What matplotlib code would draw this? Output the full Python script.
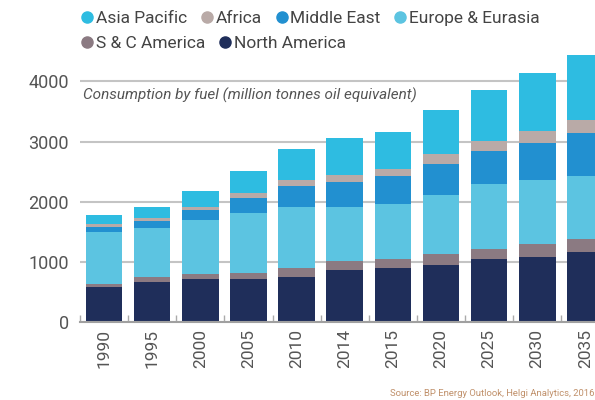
import numpy as np
import matplotlib.pyplot as plt
from matplotlib.lines import Line2D

plt.rcParams['font.family'] = ['Roboto', 'DejaVu Sans']

years = ["1990", "1995", "2000", "2005", "2010", "2014", "2015", "2020", "2025", "2030", "2035"]

# million tonnes oil equivalent, stacked bottom -> top
north_america = [580, 660, 710, 715, 755, 865, 890, 940, 1040, 1085, 1165]
sc_america = [50, 85, 95, 105, 150, 150, 160, 190, 180, 215, 210]
europe_eurasia = [875, 825, 885, 995, 1005, 905, 910, 975, 1070, 1055, 1055]
middle_east = [80, 110, 175, 250, 345, 415, 460, 525, 550, 615, 705]
africa = [50, 55, 50, 75, 110, 110, 125, 160, 165, 200, 220]
asia_pacific = [140, 185, 260, 365, 510, 615, 615, 735, 850, 975, 1080]

series = [
    ("North America", north_america, "#1F2E5A"),
    ("S & C America", sc_america, "#8B7A82"),
    ("Europe & Eurasia", europe_eurasia, "#5CC4E1"),
    ("Middle East", middle_east, "#2290D0"),
    ("Africa", africa, "#B9AAA7"),
    ("Asia Pacific", asia_pacific, "#2EBCE1"),
]
colors = {name: c for name, _, c in series}

fig = plt.figure(figsize=(5.95, 4), dpi=100)
ax = fig.add_axes([80 / 595, 78 / 400, 515 / 595, 0.699])

x = np.arange(len(years))
bottom = np.zeros(len(years))
for name, vals, col in series:
    ax.bar(x, vals, width=0.76, bottom=bottom, color=col, edgecolor="none", zorder=3)
    bottom += np.array(vals)

ax.set_xlim(-0.49, 10.2)
ax.set_ylim(0, 4650)
ax.set_yticks([0, 1000, 2000, 3000, 4000])
ax.yaxis.grid(True, color="#C4C4C4", linewidth=1.5, zorder=0)
ax.tick_params(axis="y", length=0, labelsize=13, labelcolor="#555555", pad=8)

ax.set_xticks(x)
ax.set_xticklabels(years, rotation=90)
ax.tick_params(axis="x", which="major", length=0, labelsize=12.5, labelcolor="#555555", pad=5)
ax.set_xticks(np.arange(-0.5, 10.5, 1), minor=True)
ax.tick_params(axis="x", which="minor", direction="in", length=5, color="#AAAAAA", width=1)

for s in ["top", "right", "left"]:
    ax.spines[s].set_visible(False)
ax.spines["bottom"].set_color("#A0A0A0")
ax.spines["bottom"].set_linewidth(1.5)
ax.spines["bottom"].set_zorder(4)

ax.text(0.006, 0.812, "Consumption by fuel (million tonnes oil equivalent)",
        transform=ax.transAxes, style="italic", fontsize=11, color="#555555",
        va="center", ha="left")


def handles(names):
    return [Line2D([0], [0], marker="o", linestyle="none", markersize=8,
                   markerfacecolor=colors[n], markeredgecolor=colors[n]) for n in names]


row1 = ["Asia Pacific", "Africa", "Middle East", "Europe & Eurasia"]
row2 = ["S & C America", "North America"]
for names, ypix in [(row1, 18), (row2, 43)]:
    leg = fig.legend(handles(names), names, loc="center left",
                     bbox_to_anchor=(74 / 595, 1 - ypix / 400), ncol=len(names),
                     frameon=False, fontsize=12.5, borderpad=0, handlelength=0.5,
                     handletextpad=0.25, columnspacing=0.9, labelcolor="#444444")

fig.text(594 / 595, 1 - 394 / 400, "Source: BP Energy Outlook, Helgi Analytics, 2016",
         fontsize=6.8, color="#C0906A", va="center", ha="right")

fig.savefig("out.png", dpi=100)
